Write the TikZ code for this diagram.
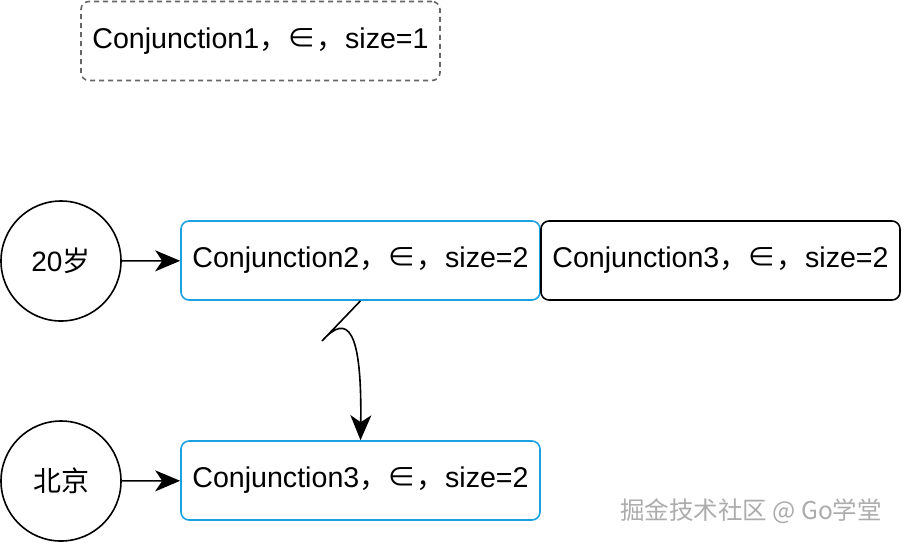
\documentclass[tikz,border=0pt]{standalone}
\usepackage{fontspec}
\setmainfont{Liberation Sans}
\newfontfamily\cjk{Noto Sans CJK SC}
\usetikzlibrary{positioning, arrows.meta}
\definecolor{drawblue}{RGB}{27,161,226}

\begin{document}
\begin{tikzpicture}[x=1pt, y=-1pt, line width=1.6pt,
    >={Stealth[length=25pt, width=21pt, inset=7pt]},
    conj/.style={draw, rounded corners=8pt, minimum width=359pt, minimum height=79pt, inner sep=0pt, font=\fontsize{28.6}{34}\selectfont},
    val/.style={circle, draw, minimum size=120pt, inner sep=0pt, font=\fontsize{28}{34}\selectfont}]
            \useasboundingbox (0,0) rectangle (902,542);

            \node[conj, draw=gray!80!black, dashed, dash pattern=on 5pt off 4pt] (c1) at (260.5,41) {\raisebox{-2pt}{Conjunction1{\cjk ，∈，}size=1}};
            \node[conj, draw=drawblue] (c2) at (360.5,260.5) {\raisebox{-2pt}{Conjunction2{\cjk ，∈，}size=2}};
            \node[conj] (c3) at (720.5,260.5) {\raisebox{-2pt}{Conjunction3{\cjk ，∈，}size=2}};
            \node[conj, draw=drawblue] (c4) at (360.5,480.5) {\raisebox{-2pt}{Conjunction3{\cjk ，∈，}size=2}};
            \node[val] (age) at (61,261) {20{\cjk 岁}};
            \node[val] (city) at (61,481) {\cjk 北京};
            \node[text=gray!65, font=\cjk\fontsize{24.5}{28}\selectfont] (mark) at (751,511) {掘金技术社区 @ Go学堂};

            \coordinate (kink) at (322,341);

            \draw[->] (age) -- (c2);
            \draw[->] (city) -- (c4);
            \draw[->] (c2.south) -- (kink) .. controls (348,312) and (362,330) .. (c4.north);
        \end{tikzpicture}
\end{document}
